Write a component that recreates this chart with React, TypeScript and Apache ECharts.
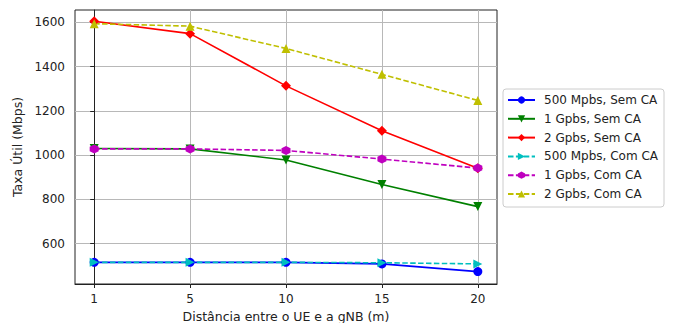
import React, { useEffect, useRef } from "react";
import * as echarts from "echarts";

const distances = ["1", "5", "10", "15", "20"];
const yTicks = [600, 800, 1000, 1200, 1400, 1600];

const s500Sem = [515, 515, 515, 508, 473];
const s1gSem = [1030, 1028, 978, 867, 767];
const s2gSem = [1605, 1549, 1313, 1110, 940];
const s500Com = [515, 515, 515, 513, 508];
const s1gCom = [1028, 1028, 1021, 982, 941];
const s2gCom = [1594, 1583, 1482, 1365, 1247];

const names = [
  "500 Mpbs, Sem CA",
  "1 Gpbs, Sem CA",
  "2 Gpbs, Sem CA",
  "500 Mpbs, Com CA",
  "1 Gpbs, Com CA",
  "2 Gpbs, Com CA",
];

const HEX = "path://M0,-1 L0.866,-0.5 L0.866,0.5 L0,1 L-0.866,0.5 L-0.866,-0.5 Z";

export default function App() {
  const ref = useRef<HTMLDivElement>(null);
  useEffect(() => {
    if (!ref.current) return;
    const chart = echarts.init(ref.current, null, { renderer: "svg" });
    const font = "DejaVu Sans";
    const fs = 12;
    const mk = (
      name: string,
      vals: number[],
      color: string,
      symbol: string,
      rotate: number,
      dashed: boolean,
      size: number
    ) => ({
      name,
      type: "line",
      data: vals.map((v, i) => [i, v]),
      symbol,
      symbolRotate: rotate,
      symbolSize: size,
      showAllSymbol: true,
      itemStyle: { color },
      lineStyle: { color, width: 1.6, type: dashed ? [5.5, 2.4] : "solid" },
      emphasis: { disabled: true },
    });
    chart.setOption({
      animation: false,
      textStyle: { fontFamily: font },
      grid: {
        left: 75,
        right: 179,
        top: 10,
        bottom: 39,
        containLabel: false,
        outerBoundsMode: "none",
        show: true,
        borderColor: "#222",
        borderWidth: 1,
        backgroundColor: "transparent",
      },
      xAxis: {
        type: "value",
        min: -0.2,
        max: 4.2,
        name: "Distância entre o UE e a gNB (m)",
        nameLocation: "middle",
        nameGap: 26,
        nameTextStyle: { fontSize: 12.5, color: "#222", fontFamily: font },
        axisLine: { show: true, onZero: false, lineStyle: { color: "#222" } },
        axisTick: {
          show: true,
          length: 4,
          customValues: [0, 1, 2, 3, 4],
          lineStyle: { color: "#222" },
        },
        axisLabel: {
          customValues: [0, 1, 2, 3, 4],
          formatter: (v: number) => distances[Math.round(v)],
          fontSize: fs,
          color: "#222",
          margin: 9,
          fontFamily: font,
        },
        splitLine: { show: true, lineStyle: { color: "#b8b8b8", width: 1 } },
      },
      yAxis: {
        type: "value",
        min: 417,
        max: 1656,
        name: "Taxa Útil (Mbps)",
        nameLocation: "middle",
        nameGap: 49,
        nameTextStyle: { fontSize: 12.5, color: "#222", fontFamily: font },
        axisLine: { show: true, lineStyle: { color: "#222" } },
        axisTick: {
          show: true,
          length: 4,
          customValues: yTicks,
          lineStyle: { color: "#222" },
        },
        axisLabel: {
          customValues: yTicks,
          formatter: (v: number) => String(v),
          fontSize: fs,
          color: "#222",
          margin: 10,
          fontFamily: font,
        },
        splitLine: { show: true, lineStyle: { color: "#b8b8b8", width: 1 } },
      },
      legend: {
        orient: "vertical",
        left: 503,
        top: 89,
        data: names,
        itemWidth: 27,
        itemHeight: 9,
        itemGap: 6.8,
        padding: [5, 6, 7, 4],
        borderColor: "#cccccc",
        borderWidth: 1,
        borderRadius: 3,
        backgroundColor: "#fff",
        textStyle: { fontSize: fs, color: "#222", fontFamily: font, padding: [0, 0, 0, 4] },
      },
      series: [
        mk(names[0], s500Sem, "#0000ff", "circle", 0, false, 9),
        mk(names[1], s1gSem, "#008000", "triangle", 180, false, 9),
        mk(names[2], s2gSem, "#ff0000", "diamond", 0, false, 10),
        mk(names[3], s500Com, "#00bfbf", "triangle", -90, true, 9),
        mk(names[4], s1gCom, "#bf00bf", HEX, 0, true, 9),
        mk(names[5], s2gCom, "#bfbf00", "triangle", 0, true, 9),
      ],
    });
    return () => chart.dispose();
  }, []);
  return <div ref={ref} style={{ width: 676, height: 323, position: "absolute", left: 0, top: 0 }} />;
}
